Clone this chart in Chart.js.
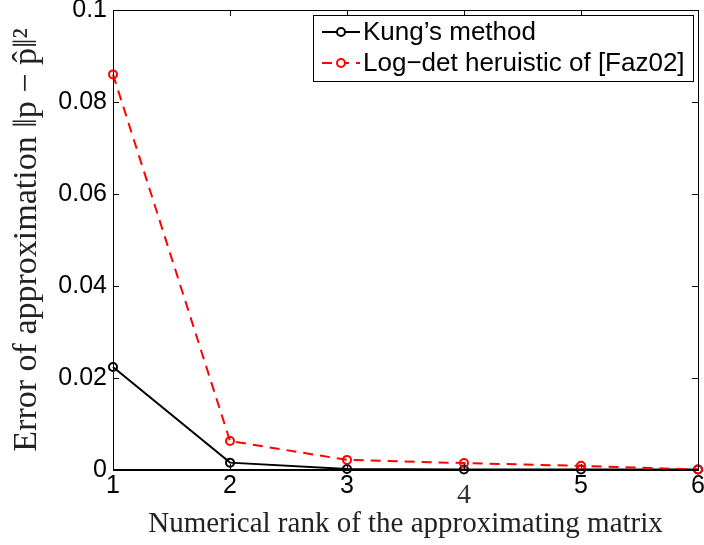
<!DOCTYPE html>
<html>
<head>
<meta charset="utf-8">
<script src="https://cdn.jsdelivr.net/npm/chart.js@4/dist/chart.umd.min.js"></script>
<style>
	html, body { margin: 0; padding: 0; background: #fff; }
	#wrap { width: 704px; height: 545px; }
</style>
</head>
<body>
<div id="wrap"><canvas id="chart" width="704" height="545"></canvas></div>
<script>
// data
const ranks = [1, 2, 3, 4, 5, 6];
const kungError = [0.0224, 0.0016, 0.0002, 0.0001, 0.0001, 0.0001];
const logdetError = [0.086, 0.0063, 0.0022, 0.0015, 0.0009, 0.0001];
const yTickLabels = ["0", "0.02", "0.04", "0.06", "0.08", "0.1"];
const xTickLabels = ["1", "2", "3", "4", "5", "6"];

const sansFont = "'Liberation Sans', Arial, sans-serif";
const serifFont = "'Liberation Serif', 'Times New Roman', serif";

// MATLAB style box, inward ticks, x labels and legend
const matlabAxes = {
	id: "matlabAxes",
	afterDraw(chart) {
		const ctx = chart.ctx;
		const a = chart.chartArea;
		const xs = chart.scales.x;
		const ys = chart.scales.y;
		ctx.save();
		ctx.strokeStyle = "#000";
		ctx.lineWidth = 1;
		// inward ticks on all four sides
		ctx.beginPath();
		ranks.forEach((r) => {
			const px = Math.round(xs.getPixelForValue(r)) + 0.5;
			ctx.moveTo(px, a.bottom);
			ctx.lineTo(px, a.bottom - 6);
			ctx.moveTo(px, a.top);
			ctx.lineTo(px, a.top + 6);
		});
		yTickLabels.forEach((t) => {
			const py = Math.round(ys.getPixelForValue(parseFloat(t))) + 0.5;
			ctx.moveTo(a.left, py);
			ctx.lineTo(a.left + 6, py);
			ctx.moveTo(a.right, py);
			ctx.lineTo(a.right - 6, py);
		});
		ctx.stroke();
		// box
		ctx.strokeRect(Math.round(a.left) + 0.5, Math.round(a.top) + 0.5,
			Math.round(a.right - a.left), Math.round(a.bottom - a.top));
		// thicker zero line like the reference
		ctx.lineWidth = 2;
		ctx.beginPath();
		ctx.moveTo(a.left, a.bottom);
		ctx.lineTo(a.right, a.bottom);
		ctx.stroke();

		// x tick labels ("4" is in a serif face and sits lower in the original)
		ctx.textAlign = "center";
		ctx.textBaseline = "top";
		xTickLabels.forEach((t, i) => {
			const px = xs.getPixelForValue(ranks[i]);
			if (t === "4") {
				ctx.font = "28px " + serifFont;
				ctx.fillStyle = "#333";
				ctx.fillText(t, px, a.bottom + 12);
			} else {
				ctx.font = "25px " + sansFont;
				ctx.fillStyle = "#000";
				ctx.fillText(t, px, a.bottom + 4);
			}
		});

		// legend
		const lx = 313, ly = 15, lw = 380, lh = 66;
		ctx.fillStyle = "#fff";
		ctx.fillRect(lx, ly, lw, lh);
		ctx.lineWidth = 1;
		ctx.strokeStyle = "#000";
		ctx.strokeRect(lx + 0.5, ly + 0.5, lw, lh);
		chart.data.datasets.forEach((ds, i) => {
			const cy = ly + 17 + i * 31;
			ctx.strokeStyle = ds.borderColor;
			ctx.lineWidth = 2;
			ctx.setLineDash(ds.borderDash || []);
			ctx.beginPath();
			ctx.moveTo(lx + 9, cy);
			ctx.lineTo(lx + 47, cy);
			ctx.stroke();
			ctx.setLineDash([]);
			ctx.fillStyle = "#fff";
			ctx.beginPath();
			ctx.arc(lx + 28, cy, 4, 0, Math.PI * 2);
			ctx.fill();
			ctx.stroke();
			ctx.fillStyle = "#000";
			ctx.font = "26px " + sansFont;
			ctx.textAlign = "left";
			ctx.textBaseline = "middle";
			ctx.fillText(ds.label, lx + 50, cy + 1);
		});
		ctx.restore();
	},
};

const ctx = document.getElementById("chart").getContext("2d");
const chart = new Chart(ctx, {
	type: "line",
	data: {
		datasets: [
			{
				label: "Kung\u2019s method",
				data: ranks.map((r, i) => ({ x: r, y: kungError[i] })),
				borderColor: "#000",
				backgroundColor: "#fff",
				borderWidth: 2,
				pointRadius: 4,
				pointBorderWidth: 2,
				pointBorderColor: "#000",
				pointBackgroundColor: "rgba(0,0,0,0)",
				tension: 0,
				order: 1,
			},
			{
				label: "Log\u2212det heruistic of [Faz02]",
				data: ranks.map((r, i) => ({ x: r, y: logdetError[i] })),
				borderColor: "#ff0000",
				backgroundColor: "#fff",
				borderWidth: 2,
				borderDash: [10, 7],
				pointRadius: 4,
				pointBorderWidth: 2,
				pointBorderColor: "#ff0000",
				pointBackgroundColor: "rgba(0,0,0,0)",
				tension: 0,
				order: 0,
			},
		],
	},
	options: {
		responsive: false,
		animation: false,
		clip: false,
		layout: { padding: { top: 10, right: 6, left: 0, bottom: 0 } },
		plugins: {
			legend: { display: false },
			tooltip: { enabled: false },
		},
		scales: {
			x: {
				type: "linear",
				min: 1,
				max: 6,
				grid: { display: false, drawTicks: false },
				border: { display: false },
				ticks: { display: false, stepSize: 1 },
				title: {
					display: true,
					text: "Numerical rank of the approximating matrix",
					color: "#222",
					font: { family: serifFont, size: 29 },
					padding: { top: 0, bottom: 3 },
				},
				afterFit(scale) {
					scale.height = 75;
					scale.paddingLeft = 0;
					scale.paddingRight = 0;
				},
			},
			y: {
				min: 0,
				max: 0.1,
				grid: { display: false, drawTicks: false },
				border: { display: false },
				ticks: {
					stepSize: 0.02,
					color: "#000",
					padding: 6,
					font: { family: sansFont, size: 25 },
					callback: (v, i) => yTickLabels[i],
				},
				title: {
					display: true,
					text: "Error of approximation \u2016p \u2212 p\u0302\u2016\u00b2",
					color: "#222",
					font: { family: serifFont, size: 34 },
					padding: { top: 7, bottom: 0 },
				},
				afterFit(scale) {
					scale.width = 113;
					scale.paddingTop = 0;
					scale.paddingBottom = 0;
				},
			},
		},
	},
	plugins: [matlabAxes],
});
</script>
</body>
</html>
